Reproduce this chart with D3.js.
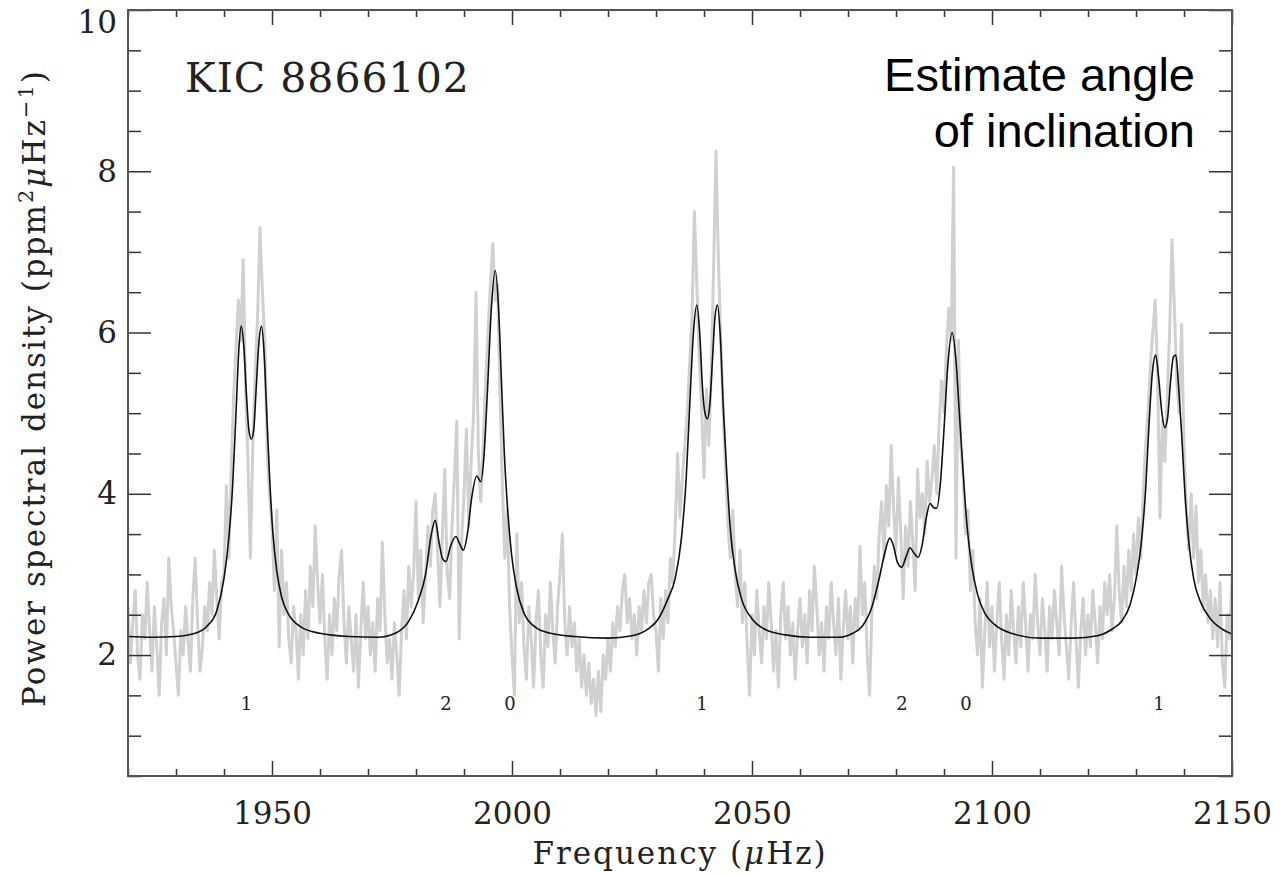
<!DOCTYPE html>
<html>
<head>
<meta charset="utf-8">
<script src="https://cdn.jsdelivr.net/npm/d3@7"></script>
<style>
  body { margin: 0; background: #fff; }
  .serif { font-family: "DejaVu Serif", serif; fill: #222; }
</style>
</head>
<body>
<svg id="chart" width="1280" height="876"></svg>
<script>
// observed power spectrum, one value every 0.5 uHz from 1920 to 2150
var specStart = 1920, specStep = 0.5;
var specPower = [
  2.6, 1.9, 2.4, 2.8, 2.0, 1.7, 2.5, 2.2, 2.9, 2.3, 1.8, 2.6, 2.1, 1.5, 2.4, 2.7, 2.0, 3.2, 2.6, 2.3,
  1.9, 1.5, 2.3, 2.0, 2.6, 2.2, 1.8, 2.7, 3.2, 2.4, 1.8, 2.1, 2.6, 2.3, 2.9, 2.5, 3.3, 2.7, 2.2, 2.9,
  3.0, 4.1, 3.2, 4.3, 5.2, 5.8, 6.4, 5.9, 6.9, 5.3, 4.4, 3.2, 4.6, 5.5, 6.2, 7.3, 6.5, 5.9, 4.5, 4.0,
  3.6, 2.8, 3.8, 2.1, 3.3, 2.5, 2.9, 2.2, 1.9, 2.6, 2.3, 1.7, 2.5, 2.0, 2.8, 2.2, 3.1, 2.6, 3.6, 2.9,
  2.4, 3.0, 2.2, 1.7, 2.5, 2.0, 2.7, 2.3, 3.0, 3.3, 2.4, 1.9, 2.6, 2.2, 1.8, 2.5, 1.6, 2.3, 2.9, 2.2,
  2.6, 2.0, 2.4, 1.8, 2.7, 2.3, 3.4, 2.5, 1.9, 2.2, 1.7, 2.4, 2.0, 1.5, 2.3, 2.8, 2.2, 3.1, 2.6, 3.0,
  3.9, 2.7, 3.3, 2.4, 3.0, 3.6, 3.1, 3.8, 4.0, 3.3, 2.6, 3.5, 4.3, 3.0, 2.7, 3.6, 4.2, 4.9, 2.2, 3.4,
  4.0, 4.8, 3.6, 4.4, 5.0, 6.5, 4.5, 3.9, 4.6, 5.4, 6.0, 6.6, 7.1, 6.4, 6.6, 5.2, 4.1, 3.2, 3.8, 2.6,
  2.0, 1.5, 3.5, 2.4, 2.9, 2.1, 1.7, 2.6, 2.2, 1.6, 2.4, 2.8, 2.0, 1.6, 2.5, 2.1, 2.9, 2.3, 1.9, 2.6,
  3.0, 3.5, 2.4, 2.0, 2.6, 2.1, 2.4, 1.8, 2.2, 1.6, 2.0, 1.5, 1.9, 1.4, 1.7, 1.25, 1.8, 1.3, 2.0, 1.7,
  2.2, 1.8, 2.4, 2.1, 2.6, 2.3, 2.8, 3.0, 2.4, 2.7, 2.2, 2.5, 2.0, 2.6, 2.3, 2.8, 2.4, 2.9, 3.0, 2.5,
  2.3, 1.8, 2.7, 2.2, 2.8, 2.4, 3.2, 2.9, 3.6, 4.5, 3.7, 4.2, 4.6, 5.0, 5.6, 6.2, 7.5, 6.6, 5.7, 5.1,
  4.2, 5.3, 4.6, 5.5, 6.8, 8.25, 6.9, 5.9, 5.0, 4.3, 3.6, 3.2, 3.8, 3.0, 2.6, 3.3, 2.4, 2.9, 2.1, 1.5,
  2.5, 2.0, 2.8, 2.3, 1.9, 2.6, 2.2, 2.9, 2.4, 1.8, 2.3, 1.6, 2.5, 2.9, 2.2, 2.6, 2.0, 2.4, 1.7, 2.3,
  2.7, 2.1, 2.5, 1.9, 2.8, 2.3, 3.1, 2.6, 2.0, 2.4, 1.8, 2.6, 2.2, 2.9, 2.4, 2.0, 2.7, 1.7, 2.3, 2.8,
  2.2, 2.6, 1.9, 2.7, 2.3, 3.35, 2.5, 2.9, 2.0, 1.5, 2.6, 3.1, 2.7, 3.5, 3.9, 3.2, 4.1, 3.6, 4.6, 3.8,
  3.3, 4.2, 3.5, 2.7, 3.6, 3.1, 3.9, 3.4, 2.8, 4.3, 3.7, 4.0, 3.5, 4.4, 3.9, 4.2, 4.6, 4.0, 4.9, 5.4,
  5.0, 5.8, 6.3, 5.9, 8.05, 3.2, 5.9, 4.6, 4.2, 3.5, 3.8, 2.8, 3.3, 2.4, 2.0, 2.7, 1.6, 2.3, 2.9, 2.1,
  2.6, 1.8, 2.4, 2.9, 2.2, 1.7, 2.5, 2.0, 2.8, 2.3, 1.9, 2.6, 2.1, 2.9, 2.4, 1.8, 2.5, 2.2, 3.0, 2.4,
  2.0, 2.7, 2.3, 1.8, 2.6, 2.2, 2.8, 2.4, 2.0, 3.1, 2.5, 2.1, 1.7, 2.4, 2.9, 2.2, 1.6, 2.3, 2.7, 2.0,
  2.5, 2.1, 2.8, 2.4, 1.9, 2.6, 2.2, 2.9, 2.5, 3.0, 2.3, 2.7, 3.6, 2.8, 2.4, 3.1, 2.6, 3.3, 2.8, 3.5,
  3.0, 3.7, 3.2, 4.0, 4.6, 5.0, 5.6, 6.0, 6.4, 5.5, 3.7, 4.9, 4.4, 5.2, 6.0, 7.15, 6.3, 5.4, 5.0, 6.1,
  4.6, 3.8, 3.3, 4.0, 3.2, 3.85, 2.9, 3.3, 2.6, 3.0, 2.4, 2.8, 2.2, 2.7, 2.1, 2.9, 1.9, 1.6, 2.5, 2.2,
  3.0
];

// fitted model
var fitFreq = [
  1920, 1925, 1930, 1934, 1936.5, 1938.5, 1940, 1941, 1941.8, 1942.5, 1943.1, 1943.6, 1944.1, 1944.7,
  1945.2, 1945.7, 1946.2, 1946.7, 1947.3, 1947.8, 1948.3, 1948.9, 1949.5, 1950.2, 1951, 1952, 1953.5,
  1956, 1960, 1966, 1972, 1976, 1978.5, 1980.5, 1982, 1983.2, 1984, 1984.8, 1985.5, 1986.25, 1987.2,
  1988.3, 1989.1, 1989.85, 1990.7, 1991.6, 1992.65, 1993.5, 1994.2, 1994.9, 1995.7, 1996.5, 1997.2,
  1997.8, 1998.4, 1999.1, 1999.9, 2000.9, 2002.5, 2005, 2008, 2013, 2020, 2025, 2028, 2030.5, 2032.5,
  2034, 2035.3, 2036.3, 2037.1, 2037.8, 2038.5, 2039.1, 2039.7, 2040.2, 2040.7, 2041.2, 2041.8, 2042.3,
  2042.8, 2043.4, 2044, 2044.7, 2045.5, 2046.5, 2047.8, 2050, 2053, 2057, 2062, 2068, 2071, 2073, 2075,
  2076.5, 2077.6, 2078.7, 2079.5, 2080.3, 2081.2, 2082.1, 2082.9, 2083.7, 2084.6, 2085.4, 2086.3,
  2087.1, 2087.8, 2088.5, 2089.2, 2090, 2090.8, 2091.7, 2092.5, 2093.2, 2094, 2094.8, 2095.8, 2097,
  2098.5, 2100.5, 2104, 2110, 2117, 2122, 2125, 2127, 2128.8, 2130.2, 2131.2, 2132, 2132.7, 2133.4,
  2134.1, 2134.7, 2135.4, 2136, 2136.6, 2137.2, 2137.8, 2138.3, 2138.9, 2139.5, 2140.2, 2141, 2142,
  2143.5, 2145.5, 2148, 2150
];
var fitPower = [
  2.23, 2.22, 2.23, 2.27, 2.36, 2.55, 2.95, 3.45, 4.1, 5.0, 5.8, 6.08, 5.85, 5.2,
  4.78, 4.68, 4.8, 5.3, 5.9, 6.08, 5.8, 5.0, 4.2, 3.5, 3.04, 2.72, 2.5,
  2.35, 2.27, 2.23, 2.22, 2.28, 2.42, 2.68, 3.0, 3.5, 3.67, 3.4, 3.2, 3.16, 3.35,
  3.47, 3.38, 3.3, 3.5, 3.95, 4.22, 4.15, 4.5, 5.3, 6.3, 6.77, 6.3,
  5.4, 4.5, 3.8, 3.25, 2.85, 2.52, 2.34, 2.27, 2.23, 2.21, 2.24, 2.31, 2.45, 2.7,
  2.95, 3.45, 4.2, 5.2, 6.0, 6.34, 6.0, 5.3, 5.0, 4.93, 5.1, 5.7, 6.2,
  6.34, 5.95, 5.1, 4.3, 3.55, 3.05, 2.7, 2.45, 2.31, 2.25, 2.22, 2.22, 2.27, 2.36, 2.6,
  2.95, 3.25, 3.45, 3.35, 3.15, 3.09, 3.22, 3.33, 3.27, 3.21, 3.35, 3.7,
  3.88, 3.83, 3.82, 4.1, 4.8, 5.6, 6.0, 5.65, 5.0, 4.25, 3.6, 3.1, 2.75,
  2.52, 2.38, 2.27, 2.21, 2.21, 2.24, 2.32, 2.42, 2.63, 3.0, 3.45, 4.05, 4.85, 5.5,
  5.72, 5.45, 5.0, 4.82, 4.95, 5.4, 5.7, 5.72, 5.3, 4.75, 4.0, 3.4, 2.95,
  2.65, 2.45, 2.32, 2.26
];

// mode degree labels
var degreeFreq = [1944.7, 1986.25, 1999.6, 2039.6, 2081.25, 2094.6, 2134.8];
var degreeLabel = ["1", "2", "0", "1", "2", "0", "1"];
var degreeLevel = 1.4;

var xMajor = [1950, 2000, 2050, 2100, 2150];
var yMajor = [2, 4, 6, 8, 10];

var svg = d3.select("#chart"),
    margin = {top: 10, right: 48, bottom: 100, left: 128},
    width = 1280 - margin.left - margin.right,
    height = 876 - margin.top - margin.bottom,
    g = svg.append("g").attr("transform", "translate(" + margin.left + "," + margin.top + ")");

var x = d3.scaleLinear().domain([1920, 2150]).range([0, width]);
var y = d3.scaleLinear().domain([0.5, 10]).range([height, 0]);

var xMinor = d3.range(1920, 2151, 10).filter(function(d) { return xMajor.indexOf(d) < 0; });
var yMinor = d3.range(0.5, 10, 0.5).filter(function(d) { return yMajor.indexOf(d) < 0; });

svg.append("defs").append("clipPath").attr("id", "plot-clip")
  .append("rect").attr("width", width).attr("height", height);

var plot = g.append("g").attr("clip-path", "url(#plot-clip)");

var specLine = d3.line()
    .x(function(d, i) { return x(specStart + i * specStep); })
    .y(function(d) { return y(d); });

plot.append("path")
    .datum(specPower)
    .attr("fill", "none")
    .attr("stroke", "#d0d0d0")
    .attr("stroke-width", 3)
    .attr("stroke-linejoin", "round")
    .attr("d", specLine);

var fitLine = d3.line()
    .curve(d3.curveMonotoneX)
    .x(function(d, i) { return x(fitFreq[i]); })
    .y(function(d) { return y(d); });

plot.append("path")
    .datum(fitPower)
    .attr("fill", "none")
    .attr("stroke", "#111")
    .attr("stroke-width", 1.6)
    .attr("d", fitLine);

// axes, ticks pointing into the frame on all four sides
function styleAxis(sel) {
  sel.select(".domain").remove();
  sel.selectAll(".tick line").attr("stroke", "#333").attr("stroke-width", 1.5);
  sel.selectAll("text").attr("class", "serif").attr("font-size", 31).attr("fill", "#222");
}

g.append("g").attr("transform", "translate(0," + height + ")")
  .call(d3.axisBottom(x).tickValues(xMajor).tickSize(-15).tickSizeOuter(0).tickPadding(26).tickFormat(d3.format("d")))
  .call(styleAxis);
g.append("g").attr("transform", "translate(0," + height + ")")
  .call(d3.axisBottom(x).tickValues(xMinor).tickSize(-7).tickFormat(""))
  .call(styleAxis);
g.append("g")
  .call(d3.axisTop(x).tickValues(xMajor).tickSize(-15).tickFormat(""))
  .call(styleAxis);
g.append("g")
  .call(d3.axisTop(x).tickValues(xMinor).tickSize(-7).tickFormat(""))
  .call(styleAxis);

var leftAxis = g.append("g")
  .call(d3.axisLeft(y).tickValues(yMajor).tickSize(-23).tickPadding(11).tickFormat(d3.format("d")))
  .call(styleAxis);
leftAxis.selectAll(".tick text").filter(function(d) { return d === 10; }).attr("dy", "0.72em");
g.append("g")
  .call(d3.axisLeft(y).tickValues(yMinor).tickSize(-13).tickFormat(""))
  .call(styleAxis);
g.append("g").attr("transform", "translate(" + width + ",0)")
  .call(d3.axisRight(y).tickValues(yMajor).tickSize(-23).tickFormat(""))
  .call(styleAxis);
g.append("g").attr("transform", "translate(" + width + ",0)")
  .call(d3.axisRight(y).tickValues(yMinor).tickSize(-13).tickFormat(""))
  .call(styleAxis);

g.append("rect")
  .attr("width", width).attr("height", height)
  .attr("fill", "none").attr("stroke", "#555").attr("stroke-width", 2);

// degree labels under the modes
g.append("g").selectAll("text")
  .data(degreeLabel)
  .enter().append("text")
    .attr("class", "serif")
    .attr("x", function(d, i) { return x(degreeFreq[i]); })
    .attr("y", y(degreeLevel))
    .attr("dy", "0.36em")
    .attr("text-anchor", "middle")
    .attr("font-size", 18)
    .text(function(d) { return d; });

g.append("text")
  .attr("class", "serif")
  .attr("x", 57).attr("y", 82)
  .attr("font-size", 41)
  .attr("letter-spacing", 1)
  .text("KIC 8866102");

var note = g.append("text")
  .attr("font-family", "'Liberation Sans', Arial, sans-serif")
  .attr("font-size", 47)
  .attr("fill", "#000")
  .attr("text-anchor", "end");
note.append("tspan").attr("x", 1067).attr("y", 81).text("Estimate angle");
note.append("tspan").attr("x", 1067).attr("y", 137).text("of inclination");

// axis titles
var xTitle = svg.append("text")
  .attr("class", "serif")
  .attr("x", margin.left + width / 2).attr("y", 864)
  .attr("text-anchor", "middle")
  .attr("font-size", 31)
  .attr("letter-spacing", 2);
xTitle.append("tspan").text("Frequency (");
xTitle.append("tspan").attr("font-style", "italic").text("μ");
xTitle.append("tspan").text("Hz)");

var yTitle = svg.append("text")
  .attr("class", "serif")
  .attr("transform", "translate(45,388) rotate(-90)")
  .attr("text-anchor", "middle")
  .attr("font-size", 31)
  .attr("letter-spacing", 2);
yTitle.append("tspan").text("Power spectral density (ppm");
yTitle.append("tspan").attr("font-size", 21).attr("dy", -12).text("2");
yTitle.append("tspan").attr("font-style", "italic").attr("dy", 12).text("μ");
yTitle.append("tspan").text("Hz");
yTitle.append("tspan").attr("font-size", 21).attr("dy", -12).text("−1");
yTitle.append("tspan").attr("dy", 12).text(")");
</script>
</body>
</html>
